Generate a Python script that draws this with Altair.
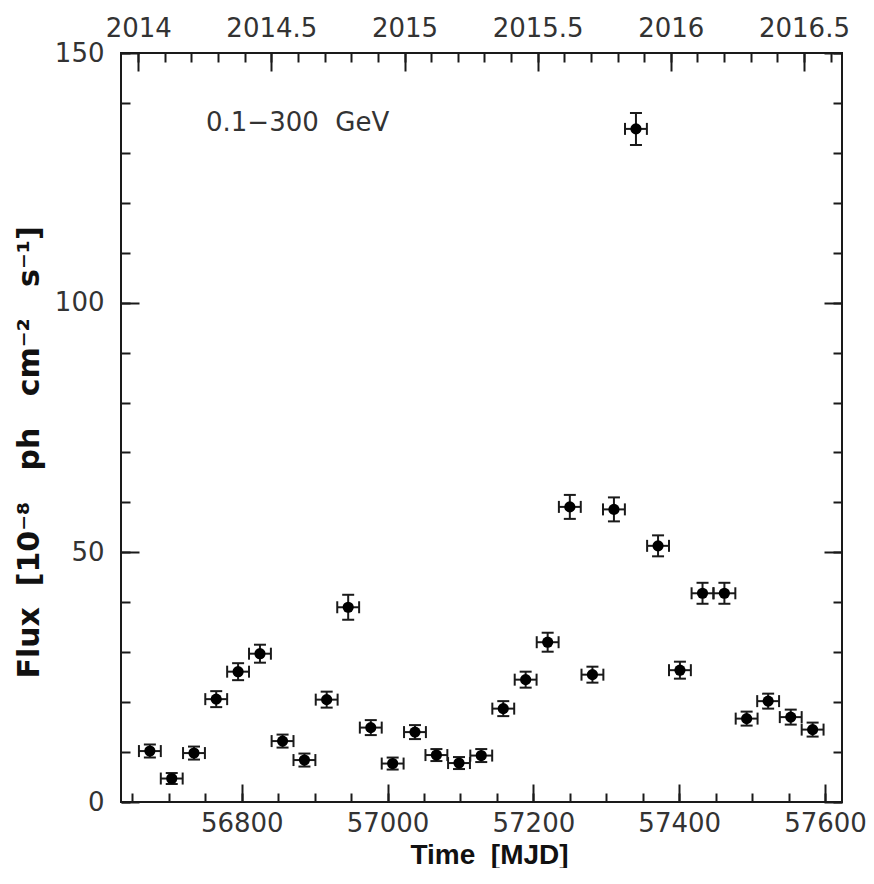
import altair as alt
import pandas as pd

# ---- data ----
mjd = [56674, 56704, 56734.5, 56765, 56795, 56825, 56856, 56886, 56916.5, 56946,
       56977, 57007, 57037.6, 57067, 57098, 57128.5, 57158.7, 57189.4, 57219.6, 57250,
       57281, 57310.5, 57340.7, 57371, 57401, 57432, 57462, 57492.5, 57522, 57553, 57583]
flux = [10.2, 4.7, 9.8, 20.6, 26.1, 29.7, 12.2, 8.4, 20.5, 39.0,
        14.9, 7.7, 14.0, 9.4, 7.8, 9.3, 18.7, 24.5, 32.0, 59.1,
        25.5, 58.6, 134.8, 51.3, 26.4, 41.8, 41.8, 16.7, 20.2, 17.0, 14.5]
flux_err = [1.3, 1.1, 1.3, 1.6, 1.7, 1.8, 1.3, 1.3, 1.6, 2.5,
            1.5, 1.2, 1.4, 1.2, 1.2, 1.3, 1.5, 1.6, 1.9, 2.4,
            1.6, 2.4, 3.2, 2.1, 1.7, 2.1, 2.1, 1.4, 1.5, 1.5, 1.4]
bin_half_width = 15  # days

x_domain = [56634.4, 57623.3]
y_domain = [0, 150]

mjd_major = [56800, 57000, 57200, 57400, 57600]
mjd_minor = list(range(56650, 57601, 50))
year_major = [2014.0, 2014.5, 2015.0, 2015.5, 2016.0, 2016.5]
year_minor = [round(2014.0 + 0.1 * i, 1) for i in range(27)]
flux_major = [0, 50, 100, 150]
flux_minor = list(range(0, 151, 10))

ann_x = [56751]
ann_y = [136.0]
ann_text = ["0.1\u2212300\u00a0\u00a0GeV"]

MJD_2014 = 56658.0
def year_to_mjd(y):
    return MJD_2014 + (y - 2014.0) * 365.25

df = pd.DataFrame({"mjd": mjd, "flux": flux, "err": flux_err})
df["x_lo"] = df["mjd"] - bin_half_width
df["x_hi"] = df["mjd"] + bin_half_width
df["y_lo"] = df["flux"] - df["err"]
df["y_hi"] = df["flux"] + df["err"]
ann = pd.DataFrame({"x": ann_x, "y": ann_y, "t": ann_text})

# ---- styling ----
LFONT = "DejaVu Sans"
TFONT = "Liberation Sans"
INK = "#1a1a1a"
MAJ, MIN = 18, 9

xs = alt.Scale(domain=x_domain, nice=False, zero=False)
ys = alt.Scale(domain=y_domain, nice=False, zero=False)

common = dict(domain=False, grid=False, tickColor=INK, tickWidth=2,
              labelFont=LFONT, labelFontSize=26, labelColor="#333",
              labelFlush=False, labelOverlap=False)

ax_bottom_major = alt.Axis(orient="bottom", values=mjd_major, format="d",
                           offset=-MAJ, tickSize=MAJ, labelPadding=8,
                           title="Time\u00a0\u00a0[MJD]", titleFont=TFONT,
                           titleFontWeight="bold", titleFontSize=28, titleColor="#111",
                           titleX=368, titleY=79, titleBaseline="alphabetic", **common)
ax_bottom_minor = alt.Axis(orient="bottom", values=mjd_minor, labels=False,
                           offset=-MIN, tickSize=MIN, **common)
ax_top_major = alt.Axis(orient="top", values=[year_to_mjd(v) for v in year_major],
                        labelExpr="format(2014 + (datum.value - 56658) / 365.25, '.1~f')",
                        offset=-MAJ, tickSize=MAJ, labelPadding=12, **common)
ax_top_minor = alt.Axis(orient="top", values=[year_to_mjd(v) for v in year_minor],
                        labels=False, offset=-MIN, tickSize=MIN, **common)
ax_left_major = alt.Axis(orient="left", values=flux_major, format="d",
                         offset=-MAJ, tickSize=MAJ, labelPadding=17,
                         title="Flux\u00a0\u00a0[10\u207b\u2078\u00a0\u00a0\u00a0ph\u00a0\u00a0\u00a0cm\u207b\u00b2\u00a0\u00a0\u00a0s\u207b\u00b9]",
                         titleFont=LFONT, titleFontWeight="bold", titleFontSize=30,
                         titleColor="#111", titlePadding=10, titleY=399, **common)
ax_left_minor = alt.Axis(orient="left", values=flux_minor, labels=False,
                         offset=-MIN, tickSize=MIN, **common)
ax_right_major = alt.Axis(orient="right", values=flux_major, labels=False,
                          offset=-MAJ, tickSize=MAJ, **common)
ax_right_minor = alt.Axis(orient="right", values=flux_minor, labels=False,
                          offset=-MIN, tickSize=MIN, **common)

base = alt.Chart(df)

xerr = base.mark_rule(color=INK, strokeWidth=2).encode(
    x=alt.X("x_lo:Q", scale=xs, axis=ax_bottom_major),
    x2="x_hi:Q",
    y=alt.Y("flux:Q", scale=ys, axis=ax_left_major),
)
yerr = base.mark_rule(color=INK, strokeWidth=2).encode(
    x=alt.X("mjd:Q", scale=xs, axis=ax_bottom_minor, title=None),
    y=alt.Y("y_lo:Q", scale=ys, axis=ax_left_minor, title=None),
    y2="y_hi:Q",
)
cap_xlo = base.mark_tick(orient="vertical", size=12, thickness=2, color=INK, opacity=1).encode(
    x=alt.X("x_lo:Q", scale=xs, axis=ax_top_major, title=None),
    y=alt.Y("flux:Q", scale=ys, axis=ax_right_major, title=None),
)
cap_xhi = base.mark_tick(orient="vertical", size=12, thickness=2, color=INK, opacity=1).encode(
    x=alt.X("x_hi:Q", scale=xs, axis=ax_top_minor, title=None),
    y=alt.Y("flux:Q", scale=ys, axis=ax_right_minor, title=None),
)
cap_ylo = base.mark_tick(orient="horizontal", size=12, thickness=2, color=INK, opacity=1).encode(
    x=alt.X("mjd:Q", scale=xs, axis=None),
    y=alt.Y("y_lo:Q", scale=ys, axis=None),
)
cap_yhi = base.mark_tick(orient="horizontal", size=12, thickness=2, color=INK, opacity=1).encode(
    x=alt.X("mjd:Q", scale=xs, axis=None),
    y=alt.Y("y_hi:Q", scale=ys, axis=None),
)
pts = base.mark_circle(size=125, color="#000", opacity=1).encode(
    x=alt.X("mjd:Q", scale=xs, axis=None),
    y=alt.Y("flux:Q", scale=ys, axis=None),
)
label = alt.Chart(ann).mark_text(align="left", baseline="middle", font=LFONT,
                                 fontSize=26, color="#333").encode(
    x=alt.X("x:Q", scale=xs, axis=None),
    y=alt.Y("y:Q", scale=ys, axis=None),
    text="t:N",
)

chart = (
    alt.layer(xerr, yerr, cap_xlo, cap_xhi, cap_ylo, cap_yhi, pts, label)
    .resolve_axis(x="independent", y="independent")
    .properties(
        width=721, height=749,
        autosize=alt.AutoSizeParams(type="none"),
        padding={"left": 113, "top": 45, "right": 24, "bottom": 66},
        background="white",
    )
    .configure_view(stroke=INK, strokeWidth=2)
)

chart.save("out.html", embed_options={"renderer": "svg", "actions": False})
